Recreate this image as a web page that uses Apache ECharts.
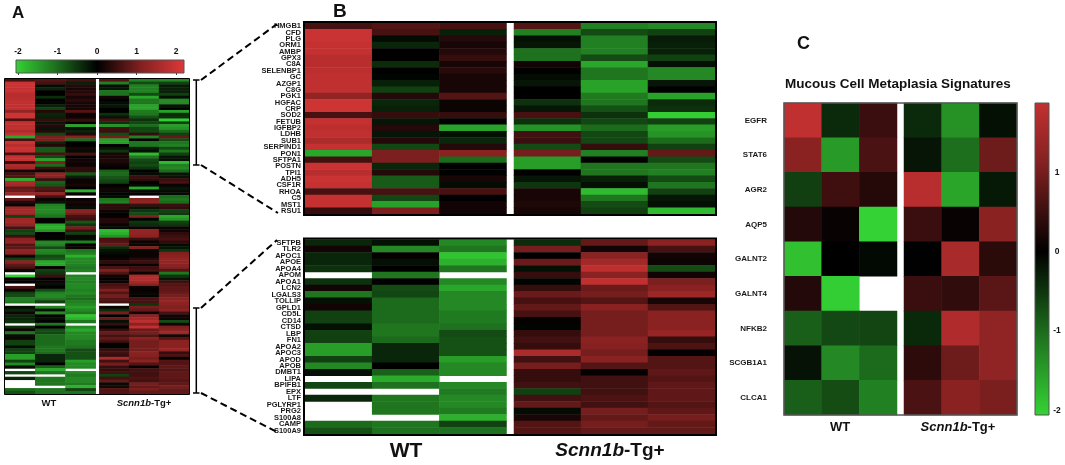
<!DOCTYPE html>
<html><head><meta charset="utf-8">
<script src="https://cdn.jsdelivr.net/npm/echarts@6/dist/echarts.min.js"></script>
<style>html,body{margin:0;padding:0;background:#fff}#c{width:1065px;height:465px}</style>
</head><body><div id="c"></div>
<script>
// ---------------- DATA ----------------
const sampleCols = ['1', '2', '3'];
const bTopGenes = ['HMGB1','CFD','PLG','ORM1','AMBP','GPX3','C8A','SELENBP1','GC','AZGP1','C8G','PGK1','HGFAC','CRP','SOD2','FETUB','IGFBP2','LDHB','SUB1','SERPIND1','PON1','SFTPA1','POSTN','TPI1','ADH5','CSF1R','RHOA','C5','MST1','RSU1'];
const bTopWT = [
 [0.6,0.7,0.6],[1.95,0.6,-0.3],[1.95,-0.1,0.3],[1.9,-0.35,0.2],[1.9,0.0,0.3],
 [1.75,0.0,0.45],[1.75,-0.4,0.2],[1.8,0.0,0.35],[1.85,-0.05,0.2],[1.85,-0.3,0.2],
 [1.85,-0.6,0.2],[1.3,0.3,0.7],[2.0,-0.35,0.1],[2.0,-0.3,0.1],[0.6,0.45,0.45],
 [1.9,-0.2,0.0],[1.8,0.3,-1.55],[1.85,-0.2,-0.15],[1.6,0.3,-0.35],[1.9,-0.65,0.3],
 [-1.6,1.05,1.2],[0.55,1.05,-1.0],[1.95,-0.35,0.0],[1.75,0.3,0.0],[1.95,-0.85,0.2],
 [1.9,-0.85,-0.1],[0.6,0.6,0.6],[1.9,-0.65,0.0],[1.9,-1.55,0.15],[0.45,1.05,0.15]];
const bTopTg = [
 [0.7,-1.2,-1.3],[-1.2,-0.7,-0.6],[-0.15,-1.2,-0.25],[-0.2,-1.2,-0.3],[-1.05,-1.2,-0.3],
 [-1.05,-0.7,-0.6],[0.15,-1.6,-0.15],[0.0,-1.1,-1.3],[-0.1,-1.1,-1.3],[-0.2,-1.55,-0.2],
 [0.0,-1.55,0.0],[0.0,-1.15,-1.55],[-0.45,-1.1,-0.4],[-0.2,-0.75,-0.45],[0.6,-0.45,-2.0],
 [-0.45,-0.65,-0.6],[-1.4,-1.0,-1.5],[0.55,-0.65,-1.4],[0.5,-0.65,-1.0],[-0.7,0.45,-0.6],
 [1.0,-1.2,0.85],[-1.5,0.0,-0.7],[-1.5,-1.1,-1.1],[0.0,-1.1,-1.2],[-0.2,-0.3,-0.7],
 [-0.5,-0.15,-1.1],[0.2,-1.8,-0.6],[0.2,-1.1,-0.2],[0.25,-0.7,-0.15],[0.2,-0.6,-1.8]];
const bBotGenes = ['SFTPB','TLR2','APOC1','APOE','APOA4','APOM','APOA1','LCN2','LGALS3','TOLLIP','GPLD1','CD5L','CD14','CTSD','LBP','FN1','APOA2','APOC3','APOD','APOB','DMBT1','LIPA','BPIFB1','EPX','LTF','PGLYRP1','PRG2','S100A8','CAMP','S100A9'];
const bBotWT = [
 [-0.35,-0.15,-1.3],[0.15,-1.3,-1.1],[-0.35,0.05,-1.9],[-0.35,-0.15,-1.7],[-0.45,0.0,-1.1],
 [null,-1.1,null],[-0.45,0.0,-1.3],[0.15,-0.7,-1.6],[-1.1,-0.65,-1.3],[-0.15,-1.0,-1.3],
 [0.15,-1.0,-1.3],[-0.6,-1.0,-1.15],[-0.6,-1.0,-1.15],[-0.15,-1.1,-1.05],[-0.6,-1.1,-0.7],
 [-0.6,-1.0,-0.75],[-1.5,-0.35,-0.75],[-1.5,-0.35,-0.75],[-0.6,-0.35,-1.5],[-1.3,0.0,-1.3],
 [-0.15,-0.9,-1.3],[null,-1.65,null],[-0.65,-1.05,-1.3],[null,null,-1.15],[-0.35,-1.1,-1.3],
 [null,-1.1,-1.3],[null,-1.1,-1.15],[null,null,-1.7],[-1.0,-1.1,-0.6],[-0.75,-1.05,-1.05]];
const bBotTg = [
 [-0.4,0.85,1.2],[1.0,0.15,0.6],[0.0,1.2,0.15],[0.9,1.5,0.1],[-0.15,1.8,-0.7],
 [0.45,1.2,0.15],[-0.05,1.85,1.05],[0.45,0.9,1.2],[0.9,1.0,1.4],[0.6,0.7,0.2],
 [0.85,1.2,0.7],[0.6,1.0,1.2],[0.05,1.0,1.2],[-0.05,1.0,1.2],[0.45,1.0,1.35],
 [0.55,1.2,0.45],[0.45,1.15,0.65],[1.6,1.0,0.05],[0.55,1.2,0.7],[1.0,0.7,0.7],
 [0.45,0.05,0.8],[0.45,0.55,0.7],[0.55,0.55,0.8],[-0.6,0.55,0.8],[0.55,0.65,0.8],
 [0.85,0.55,0.7],[-0.1,1.0,0.8],[0.2,0.85,1.0],[0.7,1.0,0.85],[0.7,0.85,0.85]];
// rows of panel A lying between the two blocks enlarged in panel B
const aMidWT = [
 [1.6,-1.0,0.1],[1.5,0.5,0.4],[0.2,-0.1,0.4],[0.6,1.3,-0.8],[0.7,1.2,-0.3],
 [-1.7,0.5,0.1],[1.6,-0.9,0.1],[1.5,-0.8,0.2],[0.8,0.7,0.0],[0.9,0.6,-1.7],
 [1.4,1.3,0.05],[null,0.6,null],[0.8,0.1,0.1],[0.3,-0.2,0.2],[0.1,-1.2,0.1],
 [1.4,-1.3,-0.1],[1.5,-1.3,1.2],[1.4,-1.2,1.0],[-0.6,-1.1,0.6],[1.4,0.05,0.5],
 [1.5,-0.05,-0.8],[1.3,-1.6,-0.5],[0.6,-1.7,1.0],[-0.6,-1.4,0.5],[-0.7,0.0,-0.6],
 [0.5,-0.05,0.1],[1.2,0.05,-0.1],[1.3,-1.3,-1.2],[0.7,-1.2,0.05],[0.8,-0.7,0.1],
 [1.3,-1.3,-1.1],[1.2,-1.2,-1.2],[0.1,-0.7,-1.7],[-0.6,-0.8,-1.3],[1.2,-1.6,-1.3],
 [0.8,-1.6,-1.2],[0.6,0.05,-1.1],[0.1,-0.6,-1.2],[null,-0.5,null],[-2.0,0.5,-1.2],
 [0.1,0.0,-1.3],[0.0,0.1,-1.2],[null,-0.1,-1.3],[0.6,0.0,-1.3],[0.1,-0.7,-1.2],
 [-0.6,-1.2,-1.3],[-0.7,-1.3,-1.1],[-1.2,-1.1,-1.0],[-1.1,-0.6,-1.2],[null,null,-1.3],
 [-0.1,-1.2,-1.5]];
const aMidTg = [
 [0.1,-0.7,-1.2],[0.05,-0.5,-1.3],[-0.9,0.0,-1.0],[-1.0,-0.1,-0.2],[-0.8,0.5,-0.2],
 [-0.7,0.4,0.5],[-0.6,0.05,0.6],[0.0,-0.1,0.1],[0.1,-1.6,-0.2],[0.1,-0.1,-0.1],
 [-0.05,0.05,-0.1],[-0.1,null,-1.0],[-1.1,1.2,-1.1],[-1.2,1.3,-1.0],[0.4,0.5,0.5],
 [0.4,-0.2,0.4],[0.1,-0.5,-0.6],[0.05,-0.7,-0.5],[0.05,1.1,-1.6],[0.3,0.0,-1.4],
 [0.3,-0.5,-0.6],[0.1,-0.4,-0.5],[-0.1,0.1,0.1],[-1.8,1.3,0.15],[-1.7,1.3,0.4],
 [-1.4,1.2,0.5],[0.6,0.5,0.6],[0.7,0.1,0.4],[0.9,-0.1,-0.1],[-0.4,1.1,-0.2],
 [-0.2,-0.1,-0.5],[-0.1,0.1,1.1],[0.05,0.1,1.2],[0.1,0.3,1.3],[0.4,0.5,1.3],
 [0.1,0.1,1.2],[0.6,0.5,1.1],[1.1,0.6,0.7],[0.7,0.1,-1.1],[0.1,1.6,-0.5],
 [0.05,1.7,-0.2],[0.1,1.5,0.5],[0.6,1.2,0.7],[0.7,0.1,0.8],[1.1,0.05,0.8],
 [0.7,0.1,0.9],[1.0,-0.05,1.0],[0.7,0.6,1.2],[0.6,0.6,1.3],[null,-0.5,1.2],
 [0.1,1.0,1.1]];
const cGenes = ['EGFR','STAT6','AGR2','AQP5','GALNT2','GALNT4','NFKB2','SCGB1A1','CLCA1'];
const cWT = [[1.85,-0.39,0.49],[1.21,-1.47,0.63],[-0.59,0.53,0.31],[0.3,0.08,-2.05],[-1.86,0.0,-0.07],[0.3,-2.0,null],[-0.89,-0.66,-0.64],[-0.17,-1.3,-1.0],[-0.89,-0.71,-1.2]];
const cTg = [[-0.39,-1.39,-0.15],[-0.2,-1.03,0.93],[1.75,-1.58,-0.22],[0.49,0.08,1.2],[0.02,1.55,0.36],[0.49,0.41,0.76],[-0.37,1.65,1.27],[0.39,0.93,1.27],[0.63,1.21,1.03]];
const aBarRange = [-2.05, 2.2];
const aBarTicks = [-2, -1, 0, 1, 2];
const cBarRange = [-2.06, 1.88];
const cBarTicks = [1, 0, -1, -2];
const scaleStops = [-2.2, -1.1, 0, 1.1, 2.2];
const scaleColors = ['#38e138', '#1f761f', '#000000', '#822020', '#de3838'];

// ---------------- HELPERS ----------------
const FONT = '"Liberation Sans", Arial, Helvetica, sans-serif';
const aWT = bTopWT.concat(aMidWT, bBotWT);
const aTg = bTopTg.concat(aMidTg, bBotTg);
const aRows = aWT.map((r, i) => String(i));
function cells(rows) { const out = []; rows.forEach((r, y) => r.forEach((v, x) => { if (v !== null) out.push([x, y, v]); })); return out; }
function hexToRgb(h) { return [1, 3, 5].map(i => parseInt(h.substr(i, 2), 16)); }
function colorAt(v) {
  v = Math.max(scaleStops[0], Math.min(scaleStops[scaleStops.length - 1], v));
  for (let i = 0; i < scaleStops.length - 1; i++) {
    if (v <= scaleStops[i + 1]) {
      const t = (v - scaleStops[i]) / (scaleStops[i + 1] - scaleStops[i]);
      const a = hexToRgb(scaleColors[i]), b = hexToRgb(scaleColors[i + 1]);
      return 'rgb(' + a.map((c, k) => Math.round(c + (b[k] - c) * t)).join(',') + ')';
    }
  }
}
function gradStops(lo, hi) {
  const pts = [lo].concat(scaleStops.filter(s => s > lo && s < hi), [hi]);
  return pts.map(v => ({ offset: (v - lo) / (hi - lo), color: colorAt(v) }));
}
const hid = { show: false };
function catX(gi) { return { type: 'category', gridIndex: gi, data: sampleCols, show: false }; }
function catY(gi, data, labels, size, margin) {
  return { type: 'category', gridIndex: gi, data, inverse: true, show: !!labels,
    axisLine: hid, axisTick: hid, splitLine: hid,
    axisLabel: { show: !!labels, interval: 0, fontSize: size, fontWeight: 'bold', fontFamily: FONT, color: '#1a1a1a', margin } };
}
function grid(left, top, width, height) { return { left, top, width, height, outerBoundsMode: 'none', containLabel: false }; }
function hm(xi, yi, rows) {
  return { type: 'heatmap', xAxisIndex: xi, yAxisIndex: yi, data: cells(rows), itemStyle: { borderWidth: 0 }, emphasis: { disabled: true }, progressive: 0 };
}
function txt(x, y, text, size, extra) {
  return { type: 'text', x, y, z: 100, style: Object.assign({ text, fontSize: size, fontWeight: 'bold', fontFamily: FONT, fill: '#111', align: 'center', verticalAlign: 'middle' }, extra || {}) };
}
function tgText(x, y, size) {
  const base = { fontSize: size, fontWeight: 'bold', fontFamily: FONT, fill: '#111' };
  return txt(x, y, '{i|Scnn1b}{n|-Tg+}', size, { rich: { i: Object.assign({ fontStyle: 'italic' }, base), n: base } });
}
function frame(x, y, w, h, color, lw) { return { type: 'rect', z: 100, shape: { x, y, width: w, height: h }, style: { fill: 'none', stroke: color, lineWidth: lw } }; }
function seg(x1, y1, x2, y2, lw, dash) { return { type: 'line', z: 100, shape: { x1, y1, x2, y2 }, style: { stroke: '#000', lineWidth: lw, lineDash: dash || null } }; }

const chart = echarts.init(document.getElementById('c'), null, { renderer: 'canvas' });
chart.setOption({
  animation: false,
  backgroundColor: '#fff',
  grid: [
    grid(16, 60, 168, 13),        // 0 A colour bar
    grid(5, 79, 90.7, 315),       // 1 A WT
    grid(99.3, 79, 89.7, 315),    // 2 A Tg
    grid(305, 23, 201.5, 191),    // 3 B top WT
    grid(514, 23, 201, 191),      // 4 B top Tg
    grid(305, 239.5, 201.5, 194.5), // 5 B bottom WT
    grid(514, 239.5, 201, 194.5), // 6 B bottom Tg
    grid(784, 103, 113, 312),     // 7 C WT
    grid(904, 103, 113, 312),     // 8 C Tg
    grid(1035, 103, 14, 312)      // 9 C colour bar
  ],
  xAxis: [
    { type: 'value', gridIndex: 0, min: aBarRange[0], max: aBarRange[1], position: 'top', z: 10,
      axisLine: hid, splitLine: hid,
      axisTick: { show: true, customValues: aBarTicks, inside: true, length: 2, lineStyle: { color: '#444' } },
      axisLabel: { customValues: aBarTicks, fontSize: 8.5, fontWeight: 'bold', fontFamily: FONT, color: '#111', margin: 4 } },
    catX(1), catX(2), catX(3), catX(4), catX(5), catX(6), catX(7), catX(8),
    { type: 'value', gridIndex: 9, min: 0, max: 1, show: false }
  ],
  yAxis: [
    { type: 'value', gridIndex: 0, min: 0, max: 1, show: false },
    catY(1, aRows, false), catY(2, aRows, false),
    catY(3, bTopGenes, true, 7.5, 4), catY(4, bTopGenes, false),
    catY(5, bBotGenes, true, 7.5, 4), catY(6, bBotGenes, false),
    catY(7, cGenes, true, 8, 17), catY(8, cGenes, false),
    { type: 'value', gridIndex: 9, min: cBarRange[0], max: cBarRange[1], position: 'right', z: 10,
      axisLine: hid, splitLine: hid, axisTick: hid,
      axisLabel: { customValues: cBarTicks, fontSize: 8.5, fontWeight: 'bold', fontFamily: FONT, color: '#111', margin: 8, align: 'center' } }
  ],
  visualMap: [{ type: 'continuous', show: false, min: scaleStops[0], max: scaleStops[scaleStops.length - 1], dimension: 2,
    seriesIndex: [0, 1, 2, 3, 4, 5, 6, 7], inRange: { color: scaleColors } }],
  series: [
    hm(1, 1, aWT), hm(2, 2, aTg),
    hm(3, 3, bTopWT), hm(4, 4, bTopTg),
    hm(5, 5, bBotWT), hm(6, 6, bBotTg),
    hm(7, 7, cWT), hm(8, 8, cTg),
    { type: 'custom', xAxisIndex: 0, yAxisIndex: 0, data: [aBarRange], clip: false,
      renderItem: (p, api) => {
        const lo = api.value(0), hi = api.value(1);
        const p0 = api.coord([lo, 1]), p1 = api.coord([hi, 0]);
        return { type: 'rect', shape: { x: p0[0], y: p0[1], width: p1[0] - p0[0], height: p1[1] - p0[1] },
          style: { fill: new echarts.graphic.LinearGradient(0, 0, 1, 0, gradStops(lo, hi)), stroke: '#555', lineWidth: 1 } };
      } },
    { type: 'custom', xAxisIndex: 9, yAxisIndex: 9, data: [cBarRange], clip: false,
      renderItem: (p, api) => {
        const lo = api.value(0), hi = api.value(1);
        const p0 = api.coord([0, hi]), p1 = api.coord([1, lo]);
        return { type: 'rect', shape: { x: p0[0], y: p0[1], width: p1[0] - p0[0], height: p1[1] - p0[1] },
          style: { fill: new echarts.graphic.LinearGradient(0, 1, 0, 0, gradStops(lo, hi)), stroke: '#555', lineWidth: 1 } };
      } }
  ],
  graphic: [
    frame(4.5, 78.5, 185, 316, '#000', 1),
    frame(304, 22, 412, 193, '#000', 2),
    frame(304, 238.5, 412, 196.5, '#000', 2),
    frame(784, 103, 233, 312, '#555', 1.5),
    // brackets in panel A
    seg(193, 80, 199.5, 80, 1.5), seg(196.3, 80, 196.3, 165, 1.5), seg(193, 165, 199.5, 165, 1.5),
    seg(193, 308, 199.5, 308, 1.5), seg(196.3, 308, 196.3, 393, 1.5), seg(193, 393, 199.5, 393, 1.5),
    // dashed zoom lines
    seg(201, 80, 277, 24, 2, [7, 4]), seg(201, 165, 278, 213, 2, [7, 4]),
    seg(201, 308, 277, 240, 2, [7, 4]), seg(201, 393, 277, 432, 2, [7, 4]),
    // texts
    txt(12, 13, 'A', 17, { align: 'left' }),
    txt(333, 12, 'B', 19, { align: 'left' }),
    txt(797, 44, 'C', 18, { align: 'left' }),
    txt(49, 403, 'WT', 9.5), tgText(144, 403, 9.5),
    txt(406, 451, 'WT', 21), tgText(610, 451, 19),
    txt(785, 84, 'Mucous Cell Metaplasia Signatures', 13.5, { align: 'left' }),
    txt(840, 427, 'WT', 13), tgText(958, 427, 13)
  ]
});
</script></body></html>
